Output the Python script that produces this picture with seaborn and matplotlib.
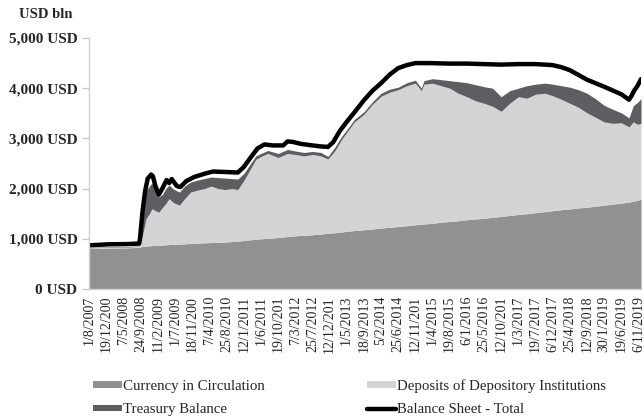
import matplotlib
matplotlib.use("Agg")
import matplotlib.pyplot as plt
import seaborn as sns
import pandas as pd
from matplotlib.patches import Patch
from matplotlib.lines import Line2D

# ---- data (USD bln) ----
stack_dates = [
    "2007-07-25", "2008-01-02", "2008-06-04", "2008-09-10", "2008-09-24", "2008-10-15",
    "2008-11-05", "2008-12-03", "2008-12-24", "2009-01-14", "2009-02-18", "2009-03-18",
    "2009-04-15", "2009-05-13", "2009-06-17", "2009-08-05", "2009-09-16", "2009-11-04",
    "2009-12-30", "2010-02-24", "2010-04-21", "2010-06-16", "2010-08-11", "2010-10-06",
    "2010-11-24", "2011-01-12", "2011-03-09", "2011-04-20", "2011-06-01", "2011-07-27",
    "2011-10-19", "2012-01-04", "2012-03-07", "2012-05-16", "2012-07-25", "2012-10-03",
    "2012-11-28", "2013-01-23", "2013-03-20", "2013-05-01", "2013-07-03", "2013-09-18",
    "2013-11-27", "2014-02-05", "2014-04-16", "2014-06-25", "2014-09-03", "2014-11-12",
    "2014-12-31", "2015-01-21", "2015-04-01", "2015-06-10", "2015-08-19", "2015-10-28",
    "2016-01-06", "2016-03-16", "2016-05-25", "2016-08-03", "2016-10-12", "2016-12-21",
    "2017-03-01", "2017-05-10", "2017-07-19", "2017-10-04", "2017-12-06", "2018-02-14",
    "2018-04-25", "2018-07-04", "2018-09-12", "2018-11-21", "2019-01-30", "2019-04-10",
    "2019-06-19", "2019-08-21", "2019-09-25", "2019-10-30", "2019-11-27",
]
currency = [
    805, 815, 820, 830, 840, 850, 855, 860, 865, 865, 870, 875,
    880, 885, 890, 895, 900, 910, 915, 920, 925, 930, 935, 945,
    955, 965, 980, 990, 1000, 1010, 1025, 1045, 1060, 1070, 1080, 1095,
    1110, 1120, 1135, 1150, 1165, 1180, 1195, 1215, 1230, 1245, 1260, 1280,
    1290, 1295, 1310, 1330, 1345, 1360, 1380, 1395, 1410, 1430, 1445, 1465,
    1485, 1500, 1520, 1540, 1560, 1580, 1595, 1615, 1630, 1650, 1670, 1690,
    1710, 1730, 1750, 1765, 1795,
]
deposits = [
    15, 15, 15, 20, 100, 300, 545, 640, 735, 705, 660, 745,
    820, 915, 830, 775, 900, 1020, 1055, 1080, 1125, 1070, 1045, 1055,
    1025, 1195, 1420, 1590, 1640, 1690, 1595, 1655, 1620, 1580, 1600, 1555,
    1480, 1630, 1845, 1970, 2165, 2300, 2485, 2625, 2690, 2725, 2790, 2820,
    2660, 2785, 2790, 2720, 2655, 2540, 2450, 2355, 2290, 2210, 2095, 2235,
    2345, 2300, 2360, 2360, 2290, 2200, 2105, 2005, 1880, 1770, 1660, 1610,
    1600, 1500, 1580, 1515, 1505,
]
treasury = [
    10, 10, 10, 10, 250, 550, 550, 550, 510, 440, 300, 260,
    300, 270, 270, 260, 250, 200, 200, 200, 180, 220, 230, 200,
    210, 140, 100, 70, 60, 60, 80, 80, 70, 70, 60, 70,
    50, 70, 60, 50, 50, 50, 50, 60, 60, 50, 60, 60,
    50, 70, 90, 120, 150, 230, 280, 320, 330, 360, 290, 250,
    170, 250, 200, 200, 230, 270, 320, 350, 390, 370, 330, 280,
    200, 180, 320, 440, 490,
]

total_dates = [
    "2007-07-25", "2008-01-02", "2008-06-04", "2008-09-10", "2008-09-17", "2008-10-08",
    "2008-10-29", "2008-11-19", "2008-12-17", "2008-12-31", "2009-01-21", "2009-02-18",
    "2009-03-18", "2009-04-22", "2009-05-13", "2009-06-03", "2009-07-15", "2009-08-12",
    "2009-09-30", "2009-12-02", "2010-03-03", "2010-05-05", "2010-08-25", "2010-11-24",
    "2011-01-12", "2011-03-09", "2011-05-04", "2011-06-29", "2011-09-07", "2011-11-30",
    "2012-01-04", "2012-02-15", "2012-04-25", "2012-07-25", "2012-10-03", "2012-11-28",
    "2013-01-09", "2013-03-06", "2013-05-01", "2013-07-03", "2013-09-18", "2013-11-27",
    "2014-02-05", "2014-04-16", "2014-06-25", "2014-09-03", "2014-11-12", "2015-03-04",
    "2015-08-19", "2016-01-06", "2016-05-25", "2016-10-12", "2017-03-01", "2017-07-19",
    "2017-12-06", "2018-02-14", "2018-04-25", "2018-09-12", "2019-01-30", "2019-06-19",
    "2019-08-21", "2019-09-11", "2019-10-02", "2019-10-30", "2019-11-27",
]
total = [
    870, 890, 895, 905, 1000, 1550,
    1950, 2200, 2280, 2250, 2050, 1880,
    2000, 2170, 2110, 2190, 2050, 2030,
    2150, 2230, 2300, 2340, 2330, 2320,
    2430, 2620, 2800, 2880, 2860, 2860,
    2940, 2930, 2890, 2860, 2840, 2830,
    2920, 3150, 3330, 3520, 3760, 3950,
    4100, 4270, 4400, 4460, 4500, 4500,
    4490, 4490, 4480, 4470, 4480, 4480,
    4460, 4420, 4360, 4170, 4030, 3880,
    3770, 3850, 3950, 4050, 4180,
]

tick_dates = [
    "2007-08-01", "2007-12-19", "2008-05-07", "2008-09-24", "2009-02-11", "2009-07-01",
    "2009-11-18", "2010-04-07", "2010-08-25", "2011-01-12", "2011-06-01", "2011-10-19",
    "2012-03-07", "2012-07-25", "2012-12-12", "2013-05-01", "2013-09-18", "2014-02-05",
    "2014-06-25", "2014-11-12", "2015-04-01", "2015-08-19", "2016-01-06", "2016-05-25",
    "2016-10-12", "2017-03-01", "2017-07-19", "2017-12-06", "2018-04-25", "2018-09-12",
    "2019-01-30", "2019-06-19", "2019-11-06",
]
tick_labels = [
    "1/8/2007", "19/12/200", "7/5/2008", "24/9/2008", "11/2/2009", "1/7/2009",
    "18/11/200", "7/4/2010", "25/8/2010", "12/1/2011", "1/6/2011", "19/10/201",
    "7/3/2012", "25/7/2012", "12/12/201", "1/5/2013", "18/9/2013", "5/2/2014",
    "25/6/2014", "12/11/201", "1/4/2015", "19/8/2015", "6/1/2016", "25/5/2016",
    "12/10/201", "1/3/2017", "19/7/2017", "6/12/2017", "25/4/2018", "12/9/2018",
    "30/1/2019", "19/6/2019", "6/11/2019",
]

series_names = ["Currency in Circulation", "Deposits of Depository Institutions",
                "Treasury Balance", "Balance Sheet - Total"]
y_ticks = [0, 1000, 2000, 3000, 4000, 5000]

# ---- styling ----
sns.set_style("white")
plt.rcParams["font.family"] = ["Liberation Serif", "DejaVu Serif"]

c_cur, c_dep, c_tre = "#919193", "#d4d4d6", "#5e5e62"

fig = plt.figure(figsize=(6.44, 4.17), dpi=100)
ax = fig.add_axes([88.5 / 644, 1 - 289 / 417, (641 - 88.5) / 644, (289 - 38) / 417])

sd = pd.to_datetime(stack_dates)
ax.stackplot(sd, currency, deposits, treasury, colors=[c_cur, c_dep, c_tre],
             linewidth=0)
df_total = pd.DataFrame({"date": pd.to_datetime(total_dates), "total": total})
sns.lineplot(data=df_total, x="date", y="total", ax=ax, color="black",
             linewidth=3.2, legend=False)

ax.set_xlim(sd[0], sd[-1])
ax.set_ylim(0, 5000)
ax.set_yticks(y_ticks)
ax.set_yticklabels([f"{v:,} USD" for v in y_ticks], fontweight="bold", fontsize=11)
ax.set_xticks(pd.to_datetime(tick_dates))
ax.set_xticklabels(tick_labels, rotation=90, fontsize=10)
ax.set_xlabel("")
ax.set_ylabel("")

for s in ["top", "right"]:
    ax.spines[s].set_visible(False)
for s in ["left", "bottom"]:
    ax.spines[s].set_color("#d0d0d0")
    ax.spines[s].set_linewidth(1.0)
ax.tick_params(axis="y", length=5, width=1, color="#c8c8c8", pad=3, left=True)
ax.tick_params(axis="x", length=0, pad=5)

fig.text(19 / 644, 1 - 15 / 417, "USD bln", fontweight="bold", fontsize=10.5,
         va="center", ha="left")

handles = [
    Patch(facecolor=c_cur, edgecolor="none"),
    Patch(facecolor=c_tre, edgecolor="none"),
    Patch(facecolor=c_dep, edgecolor="none"),
    Line2D([], [], color="black", linewidth=3.2),
]
labels = [series_names[0], series_names[2], series_names[1], series_names[3]]
fig.legend(handles, labels, ncol=2, loc="upper left",
           bbox_to_anchor=(93 / 644, 1 - 379 / 417), frameon=False,
           fontsize=10.7, handlelength=1.95, handleheight=0.3, handletextpad=0.05,
           columnspacing=6.9, labelspacing=0.7, borderpad=0, borderaxespad=0)

fig.savefig("out.png", dpi=100)
